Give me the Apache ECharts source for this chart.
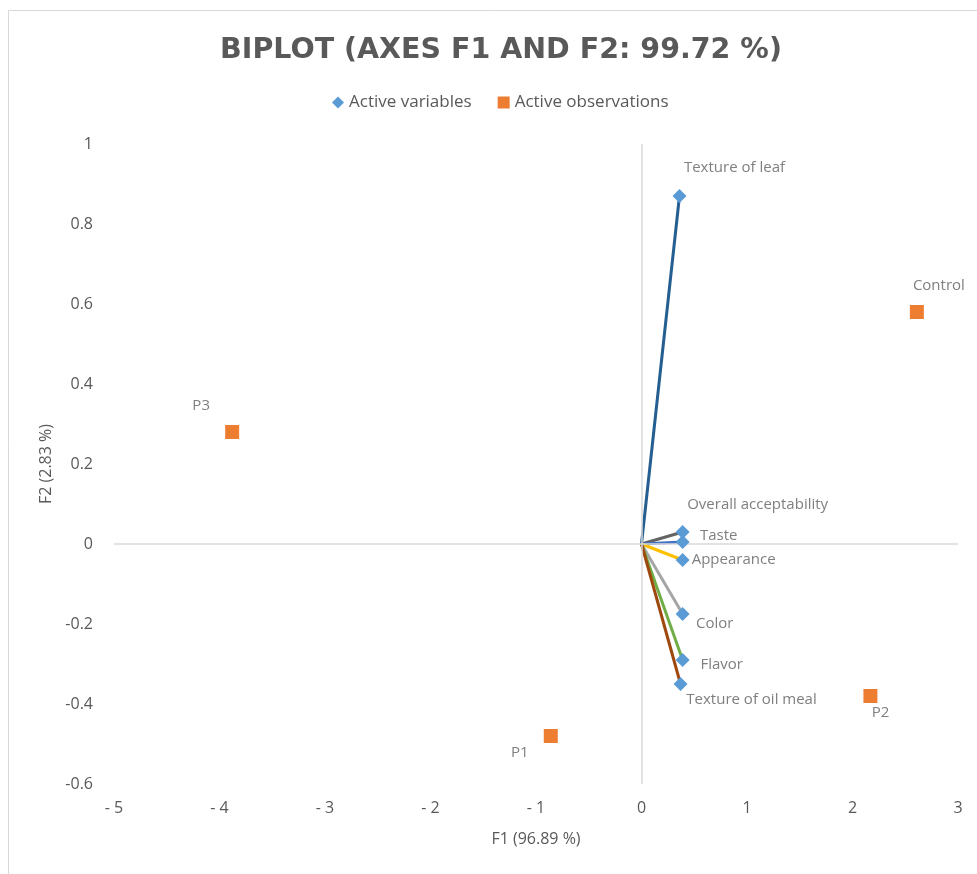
<!DOCTYPE html>
<html>
<head>
<meta charset="utf-8">
<script src="https://cdn.jsdelivr.net/npm/echarts@6/dist/echarts.min.js"></script>
<style>
html,body{margin:0;padding:0;background:#fff;}
#main{width:977px;height:874px;}
</style>
</head>
<body>
<div id="main"></div>
<script>
// ---- data ----
var variableNames = ['Texture of leaf', 'Overall acceptability', 'Taste', 'Appearance', 'Color', 'Flavor', 'Texture of oil meal'];
var variableF1 = [0.36, 0.39, 0.39, 0.39, 0.39, 0.39, 0.37];
var variableF2 = [0.87, 0.03, 0.005, -0.04, -0.175, -0.29, -0.35];
var observationNames = ['Control', 'P3', 'P1', 'P2'];
var observationF1 = [2.61, -3.88, -0.86, 2.17];
var observationF2 = [0.58, 0.28, -0.48, -0.38];
var xTicks = [-5, -4, -3, -2, -1, 0, 1, 2, 3];
var yTicks = [-0.6, -0.4, -0.2, 0, 0.2, 0.4, 0.6, 0.8, 1];

// ---- styles ----
var vectorColors = ['#255E91', '#636363', '#4472C4', '#FFC000', '#A5A5A5', '#70AD47', '#9E480E'];
var variableLabelOffsets = [[55, -28], [75, -27], [36, -6], [51, 0], [32, 10], [39, 5], [71, 16]];
var observationLabelOffsets = [[22, -26], [-31, -26], [-31, 17], [10, 17]];
var FONT = 'Open Sans';

var series = [];
// zero lines
series.push({
  type: 'line', name: 'zero', data: [], z: 1, silent: true,
  markLine: {
    silent: true, symbol: 'none', animation: false,
    label: {show: false},
    lineStyle: {color: '#d9d9d9', width: 1.5, type: 'solid'},
    data: [{xAxis: 0}, {yAxis: 0}]
  }
});
variableNames.forEach(function (n, i) {
  series.push({
    type: 'line', name: 'vec' + i, z: 2, silent: true, showSymbol: false,
    symbol: 'none', animation: false,
    lineStyle: {color: vectorColors[i], width: 3},
    data: [[0, 0], [variableF1[i], variableF2[i]]]
  });
});
function labelFor(off) {
  return {
    show: true, position: 'inside', offset: off, color: '#7f7f7f',
    fontFamily: FONT, fontSize: 15, textBorderWidth: 0, formatter: '{b}'
  };
}
series.push({
  type: 'scatter', name: 'Active variables', z: 5, symbol: 'diamond', symbolSize: 14,
  itemStyle: {color: '#5B9BD5', opacity: 1}, animation: false,
  data: variableNames.map(function (n, i) {
    return {name: n, value: [variableF1[i], variableF2[i]], label: labelFor(variableLabelOffsets[i])};
  })
});
series.push({
  type: 'scatter', name: 'Active observations', z: 5, symbol: 'rect', symbolSize: 14,
  itemStyle: {color: '#ED7D31', opacity: 1}, animation: false,
  data: observationNames.map(function (n, i) {
    return {name: n, value: [observationF1[i], observationF2[i]], label: labelFor(observationLabelOffsets[i])};
  })
});

var chart = echarts.init(document.getElementById('main'), null, {renderer: 'canvas'});
chart.setOption({
  backgroundColor: '#fff',
  animation: false,
  title: {
    text: 'BIPLOT (AXES F1 AND F2: 99.72 %)',
    left: 496, textAlign: 'center', top: 31,
    textStyle: {fontFamily: 'DejaVu Sans', fontWeight: 'bold', fontSize: 28.5, color: '#595959'}
  },
  legend: {
    left: 327, top: 89, itemWidth: 12, itemHeight: 12, itemGap: 26,
    data: [{name: 'Active variables', icon: 'diamond'}, {name: 'Active observations', icon: 'rect'}],
    textStyle: {fontFamily: FONT, fontSize: 17, color: '#595959'}
  },
  grid: {left: 114, right: 19, top: 144, bottom: 90, containLabel: false},
  xAxis: {
    type: 'value', min: xTicks[0], max: xTicks[xTicks.length - 1], interval: 1,
    name: 'F1 (96.89 %)', nameLocation: 'middle', nameGap: 47,
    nameTextStyle: {fontFamily: FONT, fontSize: 16, color: '#595959'},
    axisLine: {show: false, onZero: false}, axisTick: {show: false}, splitLine: {show: false},
    axisLabel: {margin: 16, fontFamily: FONT, fontSize: 16, color: '#595959',
      formatter: function (v) { return v < 0 ? '- ' + Math.abs(v) : String(v); }}
  },
  yAxis: {
    type: 'value', min: yTicks[0], max: yTicks[yTicks.length - 1], interval: 0.2,
    name: 'F2 (2.83 %)', nameLocation: 'middle', nameGap: 60,
    nameTextStyle: {fontFamily: FONT, fontSize: 16, color: '#595959'},
    axisLine: {show: false, onZero: false}, axisTick: {show: false}, splitLine: {show: false},
    axisLabel: {margin: 21, fontFamily: FONT, fontSize: 16, color: '#595959',
      formatter: function (v) { return String(Math.round(v * 10) / 10); }}
  },
  graphic: [{
    type: 'rect', left: 6, top: 8, silent: true, z: -1,
    shape: {width: 1000, height: 1000},
    style: {fill: 'none', stroke: '#d9d9d9', lineWidth: 1}
  }],
  series: series
});
</script>
</body>
</html>
